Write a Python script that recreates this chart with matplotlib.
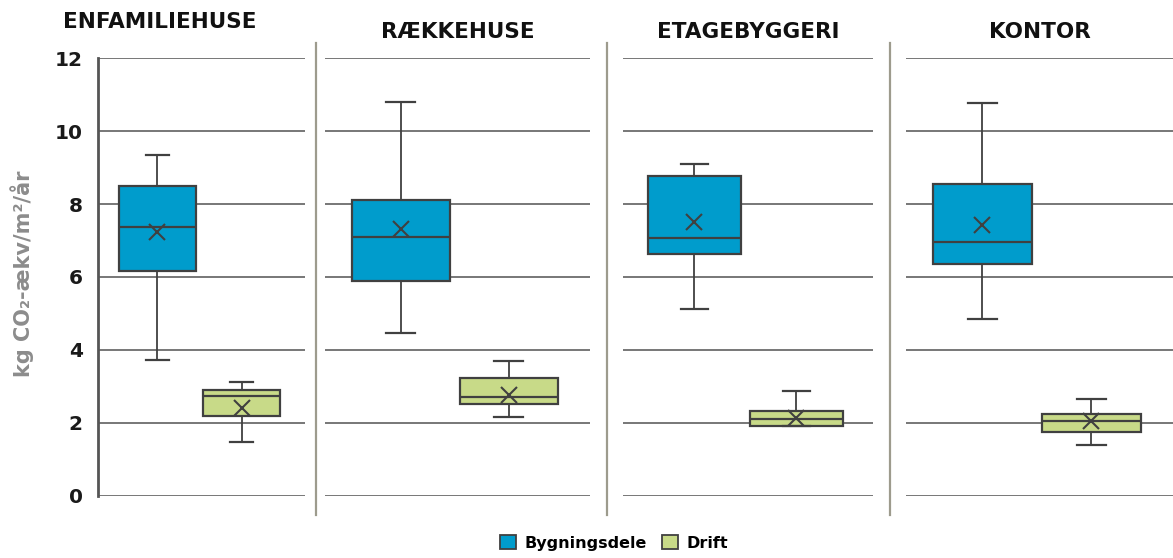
import matplotlib
matplotlib.use('Agg')
import matplotlib.pyplot as plt
from matplotlib.lines import Line2D
from matplotlib.patches import Patch

plt.rcParams['font.family'] = ['DejaVu Sans']

categories = ['ENFAMILIEHUSE', 'RÆKKEHUSE', 'ETAGEBYGGERI', 'KONTOR']
series = ['Bygningsdele', 'Drift']

# Bygningsdele
byg_lo = [3.71, 4.45, 5.12, 4.85]
byg_q1 = [6.15, 5.88, 6.63, 6.35]
byg_med = [7.38, 7.10, 7.06, 6.95]
byg_q3 = [8.50, 8.11, 8.76, 8.54]
byg_hi = [9.34, 10.79, 9.11, 10.78]
byg_mean = [7.22, 7.32, 7.50, 7.42]

# Drift
drift_lo = [1.46, 2.15, 1.90, 1.38]
drift_q1 = [2.17, 2.51, 1.90, 1.74]
drift_med = [2.73, 2.70, 2.09, 2.04]
drift_q3 = [2.90, 3.22, 2.31, 2.25]
drift_hi = [3.11, 3.70, 2.88, 2.66]
drift_mean = [2.40, 2.76, 2.12, 2.04]

yticks = [0, 2, 4, 6, 8, 10, 12]

colors = ['#009ccc', '#c8da88']
edge = '#404040'
grid_c = '#777777'
sep_c = '#9d9b8d'

W, H = 1173, 558
fig = plt.figure(figsize=(W / 100, H / 100), dpi=100)

# panel placement in pixels (left, right)
panels = [(98, 305), (325, 590), (623, 873), (906, 1173)]
y0_px, y12_px = 495.5, 58.3

def stat(lo, q1, med, q3, hi, mean):
	return dict(whislo=lo, q1=q1, med=med, q3=q3, whishi=hi, mean=mean, fliers=[])

for i, cat in enumerate(categories):
	l, r = panels[i]
	ax = fig.add_axes([l / W, 1 - y0_px / H, (r - l) / W, (y0_px - y12_px) / H])
	data = [
		stat(byg_lo[i], byg_q1[i], byg_med[i], byg_q3[i], byg_hi[i], byg_mean[i]),
		stat(drift_lo[i], drift_q1[i], drift_med[i], drift_q3[i], drift_hi[i], drift_mean[i]),
	]
	for j in range(2):
		ax.bxp([data[j]], positions=[j + 1], widths=0.91, capwidths=0.27,
			   patch_artist=True, showmeans=True, showfliers=False,
			   boxprops=dict(facecolor=colors[j], edgecolor=edge, linewidth=1.6),
			   medianprops=dict(color=edge, linewidth=1.6),
			   whiskerprops=dict(color=edge, linewidth=1.3),
			   capprops=dict(color=edge, linewidth=1.6),
			   meanprops=dict(marker='x', markersize=12, markeredgecolor=edge,
							  markeredgewidth=1.5, markerfacecolor='none'))
	ax.set_xlim(0.3, 2.75)
	ax.set_ylim(0, 12)
	ax.set_yticks(yticks)
	ax.yaxis.grid(True, color=grid_c, linewidth=1.4)
	ax.set_axisbelow(True)
	ax.set_xticks([])
	for s in ['top', 'right', 'bottom', 'left']:
		ax.spines[s].set_visible(False)
	ax.tick_params(axis='y', length=0, pad=11)
	if i == 0:
		ax.spines['left'].set_visible(True)
		ax.spines['left'].set_color('#555555')
		ax.spines['left'].set_linewidth(2)
		for t in ax.get_yticklabels():
			t.set_fontsize(14.5)
			t.set_fontweight('bold')
			t.set_color('#1a1a1a')
	else:
		ax.set_yticklabels([])
	ax.patch.set_alpha(0)

# category titles
fig.text(160 / W, 1 - 22 / H, categories[0], ha='center', va='center',
		 fontsize=15.5, fontweight='bold', color='#111111')
for i in range(1, 4):
	l, r = panels[i]
	fig.text((l + r) / 2 / W, 1 - 32 / H, categories[i], ha='center', va='center',
			 fontsize=15.5, fontweight='bold', color='#111111')

# separators between panels
for x in [316, 607, 890]:
	fig.add_artist(Line2D([x / W, x / W], [1 - 43 / H, 1 - 515 / H],
						  color=sep_c, linewidth=1.6))

fig.text(22 / W, 1 - 274 / H, 'kg CO₂-ækv/m²/år', rotation=90, ha='center', va='center',
		 fontsize=15, fontweight='bold', color='#8c8c8c')

handles = [Patch(facecolor=colors[k], edgecolor=edge, linewidth=1.3) for k in range(2)]
fig.legend(handles, series, loc='center', bbox_to_anchor=(614 / W, 1 - 543 / H),
		   ncol=2, frameon=False, handlelength=1.0, handleheight=1.0,
		   handletextpad=0.5, columnspacing=1.0,
		   prop=dict(size=11.5, weight='bold'))

fig.savefig('out.png', dpi=100)
